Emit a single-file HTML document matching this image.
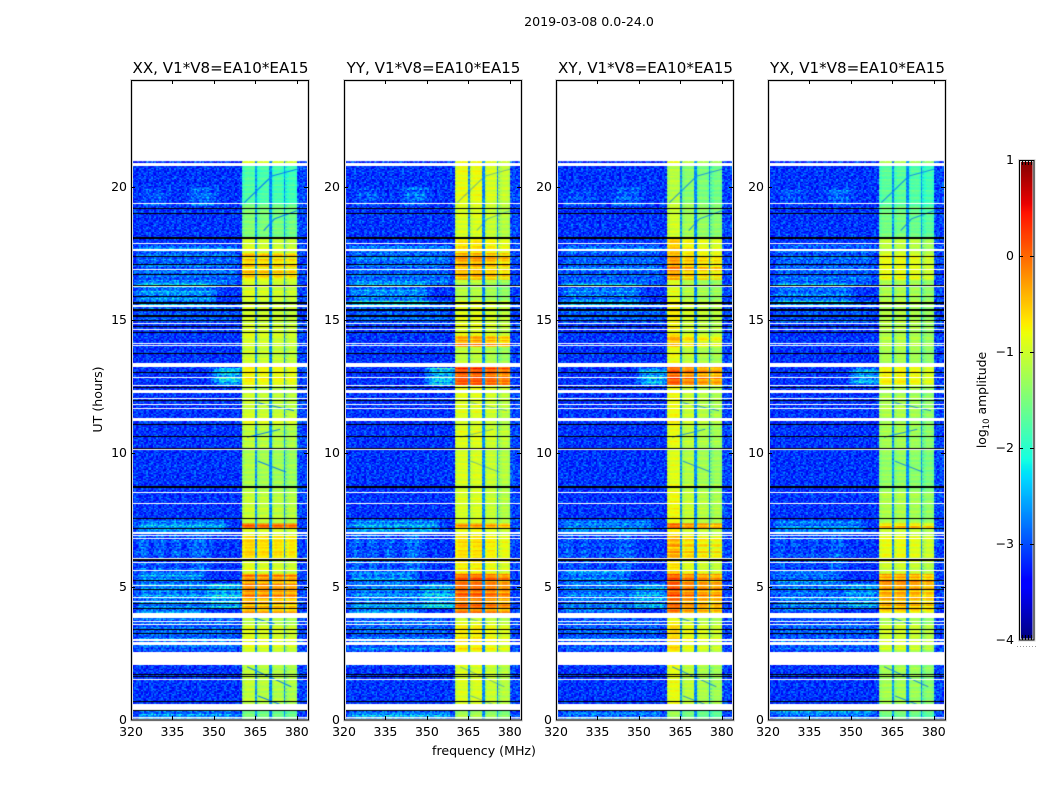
<!DOCTYPE html>
<html>
<head>
<meta charset="utf-8">
<title>2019-03-08 0.0-24.0</title>
<style>
html,body{margin:0;padding:0;background:#fff;}
#stage{position:relative;width:1050px;height:800px;overflow:hidden;background:#fff;}
canvas{position:absolute;display:block;}
svg{position:absolute;left:0;top:0;}
text{font-family:"DejaVu Sans","Liberation Sans",sans-serif;fill:#000;}
</style>
</head>
<body>
<div id="stage">
<canvas id="heat0"></canvas>
<canvas id="heat1"></canvas>
<canvas id="heat2"></canvas>
<canvas id="heat3"></canvas>
<canvas id="cbar"></canvas>
<svg id="ov" width="1050" height="800">
<text x="589" y="26" font-size="12.6" text-anchor="middle">2019-03-08 0.0-24.0</text>
<text x="484" y="755" font-size="12.6" text-anchor="middle">frequency (MHz)</text>
<text transform="translate(102,399.5) rotate(-90)" font-size="12.6" text-anchor="middle">UT (hours)</text>
<text transform="translate(986,400) rotate(-90)" font-size="12.4" text-anchor="middle">log<tspan font-size="8.5" dy="3">10</tspan><tspan dy="-3"> amplitude</tspan></text>
</svg>
</div>
<script>
// ---- axis tick labels ----
const xTicks = [320, 335, 350, 365, 380];
const yTicks = [0, 5, 10, 15, 20];
const colorTicks = [-4, -3, -2, -1, 0, 1];
const panelTitles = ["XX, V1*V8=EA10*EA15", "YY, V1*V8=EA10*EA15", "XY, V1*V8=EA10*EA15", "YX, V1*V8=EA10*EA15"];

// ---- frequency bands in MHz ----
const subBands = [[360.3, 364.8], [365.8, 369.9], [371.0, 375.0], [376.0, 380.0]];

// ---- UT segment lower edges (hours) for the bright band ----
const segmentStarts = [0, 0.35, 2.0, 2.6, 3.6, 4.0, 4.6, 5.5, 6.0, 6.9, 7.15, 7.4, 8.6, 10.2, 11, 11.5, 12.5, 13.3, 14, 14.4, 15.7, 16.5, 17.5, 18.1, 19.3, 20.82];
// log10 amplitude in each segment, one array per polarisation
const xxLevels = [-1.55, -1.15, -1.15, -0.95, -1.2, -0.45, -0.3, -0.95, -0.65, -0.95, -0.15, -1.1, -1.25, -1.15, -1.0, -1.1, -0.8, -1.05, -1.0, -1.0, -1.0, -0.6, -1.0, -1.5, -1.8, -0.95];
const yyLevels = [-1.3, -1.0, -1.0, -0.75, -1.0, -0.2, -0.05, -0.8, -0.7, -0.9, -0.4, -1.0, -1.0, -0.95, -1.0, -0.95, 0.05, -1.15, -0.4, -0.95, -1.2, -0.45, -0.7, -1.0, -0.9, -0.8];
const xyLevels = [-1.45, -1.05, -1.05, -0.8, -1.0, -0.25, -0.15, -0.85, -0.6, -0.95, -0.2, -1.0, -1.1, -1.05, -1.0, -1.0, -0.15, -1.05, -0.6, -0.95, -1.1, -0.5, -0.75, -1.2, -1.35, -0.95];
const yxLevels = [-1.6, -1.3, -1.3, -1.05, -1.25, -0.55, -0.4, -1.05, -0.9, -1.1, -0.6, -1.25, -1.4, -1.3, -1.25, -1.25, -0.8, -1.25, -1.2, -1.2, -1.25, -0.9, -1.15, -1.6, -1.75, -1.2];
// per sub-band level offsets, one per polarisation
const xxBandOffsets = [0.05, 0.0, -0.02, -0.05];
const yyBandOffsets = [0.05, 0.05, -0.05, -0.15];
const xyBandOffsets = [0.2, -0.05, -0.15, -0.2];
const yxBandOffsets = [0.05, 0.05, 0.0, -0.1];

// ---- background levels ----
const quietLevel = -3.15;
const gapLevel = -2.7;
const edgeLevel = -3.05;
// brighter patches of the quiet band: hour from, hour to, MHz from, MHz to, boost
const lowPatches = [
  [0, 0.35, 320, 360.3, 0.55], [2.6, 4.0, 320, 360.3, 0.3], [4.0, 5.6, 320, 348, 0.5], [4.2, 5.1, 345, 362, 0.8],
  [5.6, 7.0, 321, 327, 0.55], [5.6, 7.0, 327, 333, 0.5], [5.6, 7.0, 333, 339, 0.45], [5.6, 7.0, 339, 350, 0.35],
  [7.0, 7.5, 320, 356, 0.6], [12.6, 13.2, 348, 362, 0.9], [15.5, 16.4, 320, 352, 0.5], [16.3, 17.8, 320, 360.3, 0.35],
  [14.9, 15.7, 320, 360.3, 0.25], [19.3, 20.0, 339, 352, 0.35], [19.3, 19.9, 322, 335, 0.2]
];
// per polarisation scale on those patches
const patchScale = [1, 1.05, 0.85, 0.8];

// ---- blue drifting streaks in the bright band: MHz, hour, MHz, hour ----
const streaks = [
  [362, 2.0, 370, 1.62], [370, 1.62, 378, 1.25], [366, 0.9, 378, 0.42], [362, 3.9, 372, 3.6],
  [366, 9.7, 376, 9.3], [362, 10.6, 374, 10.9], [366, 11.9, 379, 11.6], [368, 18.35, 372, 18.8], [372, 18.8, 380, 19.1],
  [361, 19.4, 371, 20.4], [371, 20.4, 380, 20.65]
];
const streakAlpha = [0.9, 0.4, 0.7, 0.75];

// ---- flagged (blank) and dropped (black) integrations, hour from / to ----
const whiteRows = [[20.79, 20.87], [19.34, 19.38], [17.84, 17.88], [17.57, 17.67], [16.87, 16.91], [16.25, 16.29], [15.48, 15.58], [14.84, 14.88], [14.61, 14.65], [14.09, 14.13], [14.02, 14.06], [13.23, 13.39], [12.83, 12.87], [12.52, 12.56], [12.25, 12.39], [12.02, 12.06], [11.81, 11.85], [11.65, 11.69], [11.23, 11.32], [10.12, 10.16], [8.5, 8.54], [8.09, 8.13], [6.98, 7.04], [6.9, 6.94], [6.8, 6.84], [6.03, 6.07], [5.88, 5.92], [5.59, 5.63], [5.02, 5.06], [4.58, 4.62], [4.42, 4.46], [3.82, 4.0], [3.68, 3.72], [3.55, 3.59], [2.98, 3.02], [2.82, 2.92], [2.05, 2.54], [1.51, 1.55], [0.38, 0.61], [0.07, 0.11]];
const blackRows = [[19.17, 19.21], [18.96, 19.0], [18.04, 18.12], [17.37, 17.41], [17.07, 17.11], [16.67, 16.71], [16.27, 16.31], [15.86, 15.9], [15.6, 15.66], [15.32, 15.41], [15.13, 15.19], [14.96, 15.0], [14.72, 14.76], [14.52, 14.56], [13.74, 13.78], [13.02, 13.06], [12.44, 12.48], [11.96, 12.0], [11.08, 11.11], [10.61, 10.64], [10.16, 10.2], [8.69, 8.79], [7.52, 7.57], [7.17, 7.21], [5.98, 6.02], [5.21, 5.25], [4.86, 4.9], [4.36, 4.4], [4.16, 4.2], [3.37, 3.41], [3.21, 3.25], [1.7, 1.74], [1.62, 1.66], [0.66, 0.7], [0.34, 0.38]];

// ---- measured speckle of the dynamic spectrum (digits 0-9) ----
const speckle = [
  "47295136084712965304817269354",
  "82604975312680437195260841739",
  "13578260946315708429163570284",
  "69041387250974162803745918206",
  "35782014697523809164258370961",
  "90416752381246973058124697530",
  "24869130578069312475806913247",
  "71350964829153684027391586402",
  "58127403695820741936502847169",
  "06394817520369158274630192785",
  "43760295184507926381749056312",
  "87215630948172340695128463907",
  "19548072463895271604937218540",
  "62903784156240689317450692873",
  "35471920864317502986213754609",
  "70826359147693018542860379124",
  "94158206375081746239514602738"
];
const rowBias = [3, 6, 4, 5, 7, 2, 4, 6, 5, 3, 8, 4, 5, 2, 6, 7, 4, 3, 5, 6, 2, 5, 7, 4, 3, 6, 5, 8, 4, 3, 6];

const panelLevels = [xxLevels, yyLevels, xyLevels, yxLevels];
const panelOffsets = [xxBandOffsets, yyBandOffsets, xyBandOffsets, yxBandOffsets];

// ---- geometry ----
const panelLeft = [131.25, 343.5, 555.75, 768];
const panelWidth = 176.9;
const axTop = 80, axBottom = 720;
const fMin = 320, fMax = 384;
const hMin = 0, hMax = 24;
const dataTopHour = 20.92;
const vMin = -4, vMax = 1;
const cbLeft = 1019, cbRight = 1034, cbTop = 160, cbBottom = 640;

function xScale(f) { return (f - fMin) / (fMax - fMin) * panelWidth; }
function yScale(h) { return axBottom - (h - hMin) / (hMax - hMin) * (axBottom - axTop); }
function cbScale(v) { return cbBottom - (v - vMin) / (vMax - vMin) * (cbBottom - cbTop); }

function lerpSeg(t, seg) {
  for (let i = 1; i < seg.length; i++) {
    if (t <= seg[i][0]) {
      const a = seg[i - 1], b = seg[i];
      return a[1] + (b[1] - a[1]) * (t - a[0]) / (b[0] - a[0]);
    }
  }
  return seg[seg.length - 1][1];
}
const jetR = [[0, 0], [0.35, 0], [0.66, 1], [0.89, 1], [1, 0.5]];
const jetG = [[0, 0], [0.125, 0], [0.375, 1], [0.64, 1], [0.91, 0], [1, 0]];
const jetB = [[0, 0.5], [0.11, 1], [0.34, 1], [0.65, 0], [1, 0]];
function jet(v) {
  const t = Math.max(0, Math.min(1, (v - vMin) / (vMax - vMin)));
  return "rgb(" + Math.round(255 * lerpSeg(t, jetR)) + "," + Math.round(255 * lerpSeg(t, jetG)) + "," + Math.round(255 * lerpSeg(t, jetB)) + ")";
}

function segmentIndex(h) {
  let k = 0;
  for (let i = 0; i < segmentStarts.length; i++) { if (h >= segmentStarts[i]) k = i; }
  return k;
}
function bandIndex(f) {
  for (let i = 0; i < subBands.length; i++) { if (f >= subBands[i][0] && f < subBands[i][1]) return i; }
  return -1;
}

function drawPanel(p) {
  const cv = document.getElementById("heat" + p);
  const wpx = Math.round(panelWidth);
  const hpx = axBottom - axTop;
  cv.width = wpx; cv.height = hpx;
  cv.style.left = Math.round(panelLeft[p]) + "px";
  cv.style.top = axTop + "px";
  cv.style.width = wpx + "px";
  cv.style.height = hpx + "px";
  const c = cv.getContext("2d");
  c.fillStyle = "#fff";
  c.fillRect(0, 0, wpx, hpx);
  const df = 0.6, dh = 0.0525;
  const levels = panelLevels[p], offs = panelOffsets[p];
  let r = 0;
  for (let h = 0; h < dataTopHour; h += dh, r++) {
    const seg = segmentIndex(h);
    const rb = rowBias[(r + p * 7) % rowBias.length];
    const bias = (rb - 4.5) * 0.05;
    const sp = speckle[(r + p * 5) % speckle.length];
    let col = 0;
    for (let f = fMin; f < fMax; f += df, col++) {
      const d = +sp[(col + p * 11 + (r >> 1)) % sp.length] - 4.5;
      const fc = f + df / 2;
      let v;
      const b = bandIndex(fc);
      if (fc >= subBands[0][0] && fc < subBands[3][1]) {
        if (b < 0) {
          v = gapLevel + d * 0.04;
        } else {
          v = levels[seg] + offs[b] + d * 0.012 + bias * (levels[seg] > -0.65 ? 2.2 : 1.0);
          if (f < subBands[b][0] + df || f + df > subBands[b][1]) v -= 0.12;
        }
      } else if (f >= subBands[3][1]) {
        v = edgeLevel + d * 0.09 + bias * 0.6;
      } else {
        v = quietLevel + d * 0.095 + bias * 0.6;
        for (const q of lowPatches) {
          if (h >= q[0] && h < q[1] && f >= q[2] && f < q[3]) {
            const feather = Math.min(1, (f - q[2]) / 4, (q[3] - f) / 4);
            v += q[4] * patchScale[p] * Math.max(0, feather) * (0.15 + rb / 7);
          }
        }
      }
      c.fillStyle = jet(v);
      c.fillRect(Math.round(xScale(f)), yScale(h + dh) - axTop, Math.ceil(xScale(df) - xScale(0)) + 1, yScale(h) - yScale(h + dh) + 0.6);
    }
  }
  c.strokeStyle = jet(-2.8);
  c.lineWidth = 1.1;
  c.globalAlpha = streakAlpha[p];
  for (const s of streaks) {
    c.beginPath();
    c.moveTo(xScale(s[0]), yScale(s[1]) - axTop);
    c.lineTo(xScale(s[2]), yScale(s[3]) - axTop);
    c.stroke();
  }
  c.globalAlpha = 1;
  c.fillStyle = "#000";
  for (const b of blackRows) {
    const y0 = Math.round(yScale(b[1]) - axTop), y1 = Math.round(yScale(b[0]) - axTop);
    c.fillRect(0, y0, wpx, Math.max(1, y1 - y0));
  }
  c.fillStyle = "#fff";
  for (const b of whiteRows) {
    const y0 = Math.round(yScale(b[1]) - axTop), y1 = Math.round(yScale(b[0]) - axTop);
    c.fillRect(0, y0, wpx, Math.max(1, y1 - y0));
  }
}

const NS = "http://www.w3.org/2000/svg";
const ov = document.getElementById("ov");
function line(x1, y1, x2, y2, stroke, w) {
  const l = document.createElementNS(NS, "line");
  l.setAttribute("x1", x1);
  l.setAttribute("y1", y1);
  l.setAttribute("x2", x2);
  l.setAttribute("y2", y2);
  l.setAttribute("stroke", stroke);
  l.setAttribute("stroke-width", w);
  ov.appendChild(l);
  return l;
}
function label(x, y, s, size, anchor) {
  const t = document.createElementNS(NS, "text");
  t.setAttribute("x", x);
  t.setAttribute("y", y);
  t.setAttribute("font-size", size);
  t.setAttribute("text-anchor", anchor);
  t.textContent = s;
  ov.appendChild(t);
  return t;
}
function frame(x, y, w, h) {
  const halo = document.createElementNS(NS, "rect");
  halo.setAttribute("x", x);
  halo.setAttribute("y", y);
  halo.setAttribute("width", w);
  halo.setAttribute("height", h);
  halo.setAttribute("fill", "none");
  halo.setAttribute("stroke", "#d8d8d8");
  halo.setAttribute("stroke-width", 3);
  
  
  ov.appendChild(halo);
  const r = document.createElementNS(NS, "rect");
  r.setAttribute("x", x);
  r.setAttribute("y", y);
  r.setAttribute("width", w);
  r.setAttribute("height", h);
  r.setAttribute("fill", "none");
  r.setAttribute("stroke", "#000");
  r.setAttribute("stroke-width", 1);
  
  
  ov.appendChild(r);
}

function drawAxes(p) {
  const left = Math.round(panelLeft[p]);
  const w = Math.round(panelWidth);
  frame(left + 0.5, axTop + 0.5, w, axBottom - axTop - 0.5);
  const title = label(left + w / 2 + 1, 73, panelTitles[p], 15.1, "middle");
  
  
  for (const f of xTicks) {
    const x = Math.round(left + xScale(f)) + 0.5;
    if (f !== fMin) {
      const tb = line(x, axBottom, x, axBottom - 4, "#000", 1);
      
      
      const tt = line(x, axTop, x, axTop + 4, "#000", 1);
      
      
    }
    const tl = label(left + xScale(f), 736, String(f), 12.5, "middle");
    
    
  }
  for (const h of yTicks) {
    const y = Math.round(yScale(h)) + 0.5;
    if (h !== hMin) {
      const tl = line(left, y, left + 4, y, "#000", 1);
      
      
      const tr = line(left + w, y, left + w - 4, y, "#000", 1);
      
      
    }
    const yl = label(left - 4, y + 3.5, String(h), 12.5, "end");
    
    
  }
}

function drawColorbar() {
  const cv = document.getElementById("cbar");
  const w = cbRight - cbLeft, h = cbBottom - cbTop;
  cv.width = w; cv.height = h;
  cv.style.left = cbLeft + "px";
  cv.style.top = cbTop + "px";
  cv.style.width = w + "px";
  cv.style.height = h + "px";
  const c = cv.getContext("2d");
  for (let y = 0; y < h; y++) {
    c.fillStyle = jet(vMax - (y + 0.5) / h * (vMax - vMin));
    c.fillRect(0, y, w, 1);
  }
  frame(cbLeft + 0.5, cbTop + 0.5, w - 0.5, h - 0.5);
  for (const v of colorTicks) {
    const y = Math.round(cbScale(v)) + 0.5;
    if (v !== vMin && v !== vMax) {
      const a = line(cbLeft, y, cbLeft + 4, y, "#000", 1);
      
      
      const b = line(cbRight, y, cbRight - 4, y, "#000", 1);
      
      
    }
    const s = v < 0 ? "\u2212" + Math.abs(v) : String(v);
    const t = label(cbLeft - 5, y + 3.5, s, 12.5, "end");
    
    
  }
  for (let x = cbLeft + 3; x < cbRight; x += 3) {
    const m = line(x + 0.5, cbTop, x + 0.5, cbTop + 5, "#000", 1);
    
    
    const n = line(x + 0.5, cbBottom, x + 0.5, cbBottom - 5, "#000", 1);
    
    
  }
  for (let x = cbLeft - 2; x <= cbRight + 1; x += 3) {
    const dot = line(x, 646.5, x + 1, 646.5, "#999", 1);
    
    
  }
}

for (let p = 0; p < 4; p++) { drawPanel(p); drawAxes(p); }
drawColorbar();
</script>
</body>
</html>
